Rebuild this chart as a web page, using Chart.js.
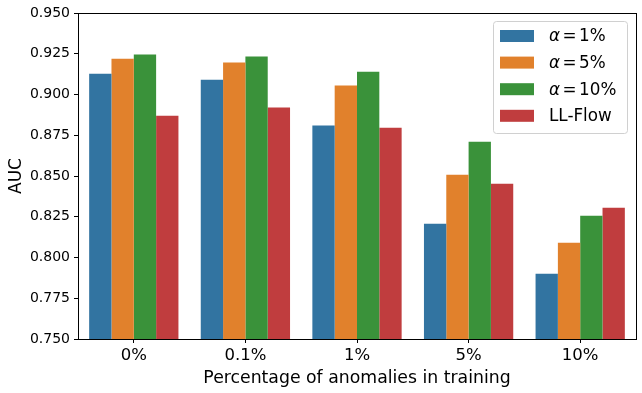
<!DOCTYPE html>
<html><head><meta charset="utf-8">
<script src="https://cdn.jsdelivr.net/npm/chart.js@4/dist/chart.umd.min.js"></script>
<style>html,body{margin:0;padding:0;background:#fff}#wrap{width:642px;height:393px}</style>
</head><body><div id="wrap"><canvas id="c" width="642" height="393"></canvas></div>
<script>
const categories = ["0%", "0.1%", "1%", "5%", "10%"];
const seriesNames = ["α = 1%", "α = 5%", "α = 10%", "LL-Flow"];
const alpha1 = [0.9128, 0.909, 0.881, 0.8207, 0.790];
const alpha5 = [0.922, 0.9196, 0.9055, 0.8508, 0.809];
const alpha10 = [0.9245, 0.9233, 0.914, 0.871, 0.8256];
const llflow = [0.887, 0.892, 0.8796, 0.8452, 0.8305];
const yTicks = [0.750, 0.775, 0.800, 0.825, 0.850, 0.875, 0.900, 0.925, 0.950];
const colors = ["#3274a1", "#e1812c", "#3a923a", "#c03d3e"];
const FONT = "'DejaVu Sans', sans-serif";

const frameLegend = {
  id: 'frameLegend',
  afterDraw(chart) {
    const ctx = chart.ctx, a = chart.chartArea;
    ctx.save();
    ctx.strokeStyle = '#000'; ctx.lineWidth = 1;
    ctx.strokeRect(Math.round(a.left) + 0.5, Math.round(a.top) + 0.5, Math.round(a.right - a.left), Math.round(a.bottom - a.top));
    // legend
    const bx = a.right - 143, by = a.top + 8, bw = 134, bh = 112;
    ctx.fillStyle = 'rgba(255,255,255,0.8)';
    ctx.strokeStyle = '#d0d0d0';
    ctx.beginPath();
    if (ctx.roundRect) ctx.roundRect(bx + 0.5, by + 0.5, bw, bh, 3); else ctx.rect(bx + 0.5, by + 0.5, bw, bh);
    ctx.fill(); ctx.stroke();
    const fs = 16.8;
    chart.data.datasets.forEach((ds, i) => {
      const y = by + 15 + i * 26.6;
      ctx.fillStyle = ds.backgroundColor;
      ctx.fillRect(bx + 7, y - 6, 34, 12);
      ctx.fillStyle = '#000';
      ctx.textBaseline = 'middle';
      ctx.textAlign = 'left';
      let x = bx + 56;
      const lab = ds.label;
      if (lab.startsWith('α')) {
        ctx.font = "italic " + fs + "px " + FONT;
        ctx.fillText('α', x, y + 1);
        x += ctx.measureText('α').width + 2.5;
        ctx.font = fs + "px " + FONT;
        ctx.fillText('=', x, y + 1);
        x += ctx.measureText('=').width + 2.5;
        ctx.fillText(lab.replace(/^α\s*=\s*/, ''), x, y + 1);
      } else {
        ctx.font = fs + "px " + FONT;
        ctx.fillText(lab, x, y + 1);
      }
    });
    ctx.restore();
  }
};

new Chart(document.getElementById('c'), {
  type: 'bar',
  data: {
    labels: categories,
    datasets: [alpha1, alpha5, alpha10, llflow].map((d, i) => ({
      label: seriesNames[i], data: d, backgroundColor: colors[i], borderWidth: 0,
      barPercentage: 1.0, categoryPercentage: 0.8
    }))
  },
  options: {
    responsive: false, animation: false,
    devicePixelRatio: 1,
    layout: { padding: { top: 13, right: 6, left: 2, bottom: 0 } },
    plugins: { legend: { display: false }, tooltip: { enabled: false } },
    scales: {
      x: {
        grid: { display: true, drawOnChartArea: false, tickLength: 4, color: '#000', offset: false },
        border: { display: false },
        ticks: { color: '#000', font: { family: FONT, size: 16.5 }, padding: 3 },
        title: { display: true, text: 'Percentage of anomalies in training', color: '#000', font: { family: FONT, size: 17.3 }, padding: { top: 1 } },
        afterFit(s) { s.height = 54; }
      },
      y: {
        min: 0.75, max: 0.95,
        grid: { display: true, drawOnChartArea: false, tickLength: 4, color: '#000' },
        border: { display: false },
        afterBuildTicks(s) { s.ticks = yTicks.map(v => ({ value: v })); },
        ticks: { color: '#000', font: { family: FONT, size: 14 }, padding: 4, callback: v => v.toFixed(3) },
        title: { display: true, text: 'AUC', color: '#000', font: { family: FONT, size: 17 }, padding: { bottom: 0 } },
        afterFit(s) { s.width = 76; }
      }
    }
  },
  plugins: [frameLegend]
});
</script></body></html>
